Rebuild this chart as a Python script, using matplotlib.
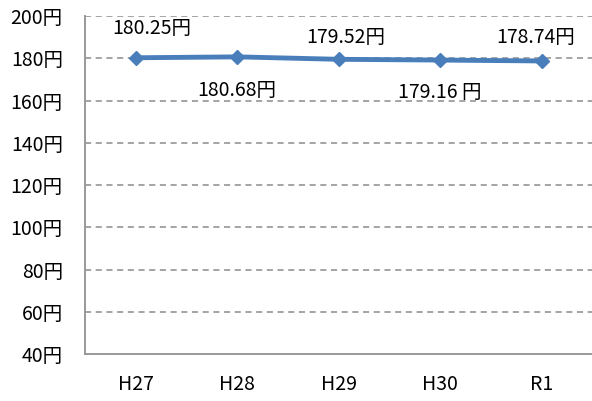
import matplotlib
matplotlib.use("Agg")
import matplotlib.pyplot as plt

plt.rcParams['font.family'] = ['Noto Sans CJK JP', 'DejaVu Sans']

categories = ["H27", "H28", "H29", "H30", "R1"]
values = [180.25, 180.68, 179.52, 179.16, 178.74]
value_labels = ["180.25円", "180.68円", "179.52円", "179.16 円", "178.74円"]
yticks = [40, 60, 80, 100, 120, 140, 160, 180, 200]
ytick_labels = [f"{v}円" for v in yticks]

fig = plt.figure(figsize=(5.92, 4.01), dpi=100)
ax = fig.add_axes([0.1436, 0.117, 0.857, 0.843])

x = list(range(len(categories)))
ax.plot(x, values, color="#4A7EBB", lw=3.5, marker="D", ms=7.5, zorder=3)

ax.set_xlim(-0.5, 4.5)
ax.set_ylim(40, 200)
ax.set_yticks(yticks)
ax.set_yticklabels(ytick_labels, fontsize=14)
ax.set_xticks(x)
ax.set_xticklabels(categories, fontsize=14)
ax.tick_params(axis='x', length=0, pad=14)
ax.tick_params(axis='y', length=0, pad=16)

for v in yticks[1:]:
    ax.axhline(v, color="#8C8C8C", lw=1.1, ls=(0, (4, 3)), zorder=1)

for s in ["top", "right"]:
    ax.spines[s].set_visible(False)
for s in ["left", "bottom"]:
    ax.spines[s].set_color("#999999")
    ax.spines[s].set_linewidth(1.4)

offsets = [(11.5, 21), (0, -24), (5, 16), (0, -23), (-4, 17)]
for xi, v, lab, off in zip(x, values, value_labels, offsets):
    ax.annotate(lab, (xi, v), xytext=off, textcoords="offset points",
                ha="center", va="center", fontsize=14)

fig.savefig("out.png", dpi=100)
